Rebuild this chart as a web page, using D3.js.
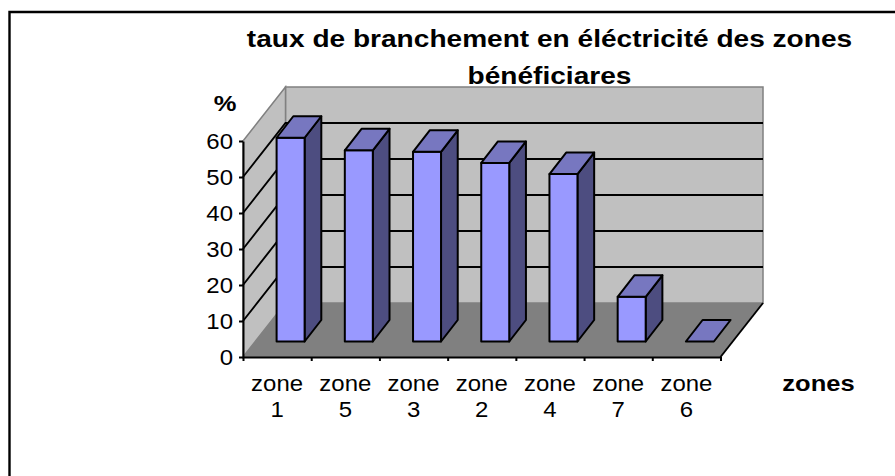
<!DOCTYPE html>
<html><head><meta charset="utf-8">
<script src="https://cdn.jsdelivr.net/npm/d3@7"></script>
<style>html,body{margin:0;padding:0;background:#fff}svg{display:block}text{font-family:"Liberation Sans",Arial,sans-serif;fill:#000}</style>
</head><body><svg id="c" width="895" height="476"></svg>
<script>
const categories = ["1","5","3","2","4","7","6"];
const values = [56.6,53.1,52.7,49.6,46.5,12.4,0];
const yTicks = [0,10,20,30,40,50,60];
const titleLines = ["taux de branchement en éléctricité des zones","bénéficiares"];

const svg = d3.select("#c");
const y = d3.scaleLinear().domain([0,60]).range([357,141]);
const x = d3.scaleBand().domain(categories).range([243,720.5]);
const wall = {dx:42.5, dy:-54};
const front = {dx:14, dy:-15.5};
const depth = {dx:16.7, dy:-21.5};
const barInset = 19.6, barW = 28;
const pts = a => a.map(p=>p.join(",")).join(" ");
const L = x.range()[0], R = x.range()[1], B = y(0), T = y(60);

// frame
svg.append("path").attr("d","M9.5,476V12H895").attr("fill","none").attr("stroke","#000").attr("stroke-width",2.4);

// walls and floor
svg.append("polygon").attr("points",pts([[L+wall.dx,T+wall.dy],[R+wall.dx,T+wall.dy],[R+wall.dx,B+wall.dy],[L+wall.dx,B+wall.dy]])).attr("fill","#c0c0c0").attr("stroke","#808080").attr("stroke-width",1.5);
svg.append("polygon").attr("points",pts([[L,T],[L+wall.dx,T+wall.dy],[L+wall.dx,B+wall.dy],[L,B]])).attr("fill","#c0c0c0").attr("stroke","#808080").attr("stroke-width",1.5);
svg.append("polygon").attr("points",pts([[L,B],[L+wall.dx,B+wall.dy],[R+wall.dx,B+wall.dy],[R,B]])).attr("fill","#808080");

// gridlines
const grid = yTicks.filter(d=>d>0&&d<60);
svg.append("g").selectAll("path").data(grid).join("path")
  .attr("d",d=>`M${L},${y(d)}L${L+wall.dx},${y(d)+wall.dy}H${R+wall.dx}`)
  .attr("fill","none").attr("stroke","#000").attr("stroke-width",1.9);
svg.append("line").attr("x1",R).attr("y1",B).attr("x2",R+wall.dx).attr("y2",B+wall.dy).attr("stroke","#000").attr("stroke-width",1.9);

// bars
const bars = svg.append("g").selectAll("g").data(categories.map((c,i)=>({c,v:values[i]}))).join("g")
  .attr("stroke","#000").attr("stroke-width",2).attr("stroke-linejoin","round");
const bx = d=>x(d.c)+barInset+front.dx;
const by0 = ()=>y(0)+front.dy;
const byv = d=>y(d.v)+front.dy;
bars.filter(d=>d.v>0).append("polygon").attr("fill","#4d4d80").attr("points",d=>pts([
  [bx(d)+barW,byv(d)],[bx(d)+barW+depth.dx,byv(d)+depth.dy],[bx(d)+barW+depth.dx,by0()+depth.dy],[bx(d)+barW,by0()]]));
bars.filter(d=>d.v>0).append("rect").attr("fill","#9999ff").attr("x",bx).attr("y",byv).attr("width",barW).attr("height",d=>by0()-byv(d));
bars.append("polygon").attr("fill","#7777c0").attr("points",d=>pts([
  [bx(d),byv(d)],[bx(d)+depth.dx,byv(d)+depth.dy],[bx(d)+barW+depth.dx,byv(d)+depth.dy],[bx(d)+barW,byv(d)]]));

// axes
const yAxis = svg.append("g").attr("transform",`translate(${L},0)`).call(d3.axisLeft(y).tickValues(yTicks).tickSize(4).tickSizeOuter(0).tickFormat(""));
const xAxis = svg.append("g").attr("transform",`translate(0,${B})`).call(d3.axisBottom(d3.scaleLinear().domain([0,categories.length]).range([L,R])).ticks(categories.length).tickSize(4).tickSizeOuter(0).tickFormat(""));
[yAxis,xAxis].forEach(a=>{a.selectAll("path,line").attr("stroke","#000").attr("stroke-width",2);});

// labels
const label = (txt,px,py,size,weight,sx,anchor="middle") => svg.append("text")
  .attr("transform",`translate(${px},${py}) scale(${sx},1)`).attr("text-anchor",anchor)
  .attr("font-size",size).attr("font-weight",weight).text(txt);
yTicks.forEach(d=>label(d,233,y(d)+7.5,22,"normal",1.09,"end"));
categories.forEach(c=>{
  const cx = x(c)+x.bandwidth()/2;
  label("zone",cx,391,22,"normal",1.09);
  label(c,cx,417,22,"normal",1.09);
});
label(titleLines[0],549.5,47,24,"bold",1.17);
label(titleLines[1],549.5,84,24,"bold",1.17);
label("%",225,111,22,"bold",1.16);
label("zones",818.5,391,22,"bold",1.16);
</script></body></html>
